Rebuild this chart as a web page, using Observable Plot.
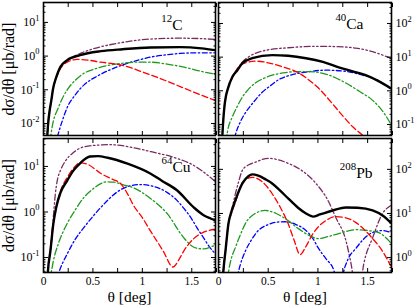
<!DOCTYPE html>
<html><head><meta charset="utf-8">
<script src="https://cdn.jsdelivr.net/npm/d3@7"></script>
<script src="https://cdn.jsdelivr.net/npm/@observablehq/plot@0.6"></script>
<style>
body{margin:0;background:#fff;}
#chart{position:relative;width:415px;height:306px;font-family:"Liberation Serif",serif;}
#chart svg{position:absolute;overflow:visible;}
</style></head><body><div id="chart"></div>
<script>
// ---- data: [theta (deg), dσ/dθ (μb/rad)] ----
const C12_total = [[0.035,0.003],[0.047,0.01],[0.063,0.025],[0.08,0.05],[0.095,0.1],[0.13,0.24],[0.17,0.47],[0.24,0.76],[0.37,1.07],[0.58,1.4],[0.8,1.6],[1.08,1.8],[1.38,1.85],[1.6,1.7],[1.74,1.5]];
const C12_incoh = [[0.13,0.24],[0.17,0.48],[0.24,0.72],[0.3,0.95],[0.4,1.3],[0.55,1.8],[0.75,2.4],[1.08,3.2],[1.38,3.4],[1.6,3.3],[1.74,3.1]];
const C12_red   = [[0.035,0.003],[0.047,0.01],[0.063,0.025],[0.08,0.05],[0.095,0.1],[0.13,0.23],[0.17,0.42],[0.24,0.66],[0.34,0.8],[0.45,0.76],[0.58,0.66],[0.7,0.6],[0.81,0.52],[1.0,0.34],[1.25,0.18],[1.5,0.09],[1.74,0.048]];
const C12_green = [[0.065,0.003],[0.1,0.012],[0.14,0.025],[0.19,0.055],[0.24,0.1],[0.32,0.19],[0.41,0.31],[0.5,0.4],[0.58,0.47],[0.7,0.56],[0.81,0.62],[0.95,0.66],[1.08,0.66],[1.25,0.58],[1.42,0.47],[1.6,0.35],[1.74,0.29]];
const C12_blue  = [[0.14,0.004],[0.19,0.012],[0.24,0.03],[0.32,0.07],[0.41,0.14],[0.55,0.26],[0.68,0.4],[0.81,0.56],[0.95,0.75],[1.08,0.93],[1.25,1.1],[1.38,1.2],[1.55,1.25],[1.74,1.25]];

const Ca40_total = [[0.035,0.03],[0.045,0.1],[0.06,0.35],[0.075,0.7],[0.09,1.05],[0.14,2.6],[0.19,4.1],[0.24,6.6],[0.34,9.3],[0.54,11.5],[0.7,11],[0.88,9.3],[1.05,7.2],[1.21,5],[1.35,3.8],[1.48,2.9],[1.6,2.0],[1.73,1.2]];
const Ca40_incoh = [[0.14,2.7],[0.19,4.3],[0.24,7.1],[0.3,10],[0.37,13],[0.5,16.5],[0.7,19],[0.98,21],[1.2,20.5],[1.38,18.6],[1.55,14.5],[1.73,9.3]];
const Ca40_red   = [[0.035,0.03],[0.045,0.1],[0.06,0.35],[0.075,0.7],[0.09,1.05],[0.14,2.5],[0.2,5],[0.27,6.8],[0.37,7.6],[0.5,6.8],[0.64,5.2],[0.8,3.5],[0.9,2.2],[1.0,1.25],[1.08,0.7],[1.15,0.4],[1.25,0.18],[1.35,0.085],[1.46,0.045],[1.55,0.025]];
const Ca40_green = [[0.075,0.03],[0.09,0.06],[0.14,0.17],[0.19,0.35],[0.24,0.65],[0.3,1.1],[0.37,1.7],[0.45,2.3],[0.54,2.9],[0.65,3.4],[0.77,3.7],[0.9,3.7],[0.98,3.6],[1.1,3.0],[1.28,1.7],[1.42,0.95],[1.55,0.52],[1.65,0.25],[1.73,0.107]];
const Ca40_blue  = [[0.15,0.03],[0.17,0.05],[0.22,0.12],[0.27,0.22],[0.35,0.45],[0.44,0.91],[0.52,1.4],[0.6,2.1],[0.72,2.9],[0.88,3.6],[1.08,4.1],[1.28,3.8],[1.45,2.9],[1.55,2.4],[1.65,1.7],[1.73,1.2]];

const Cu64_total = [[0.035,0.02],[0.045,0.05],[0.07,0.14],[0.1,0.56],[0.13,1.3],[0.17,2.6],[0.24,4.9],[0.3,8],[0.37,11.7],[0.47,16.5],[0.55,16.8],[0.65,15.5],[0.85,11.5],[1.08,7],[1.2,4.8],[1.35,3],[1.52,1.26],[1.62,0.85],[1.69,0.72],[1.74,0.65]];
const Cu64_incoh = [[0.07,0.15],[0.1,0.8],[0.12,2.5],[0.14,5],[0.17,8],[0.22,13],[0.3,20],[0.45,28],[0.68,30],[0.9,26],[1.09,21],[1.35,15],[1.52,10.5],[1.69,5.7],[1.74,4.6]];
const Cu64_red   = [[0.035,0.02],[0.045,0.05],[0.07,0.14],[0.1,0.55],[0.13,1.3],[0.17,2.8],[0.24,5.7],[0.3,9],[0.37,12],[0.45,11],[0.58,7],[0.7,5.2],[0.78,4.2],[0.85,2.5],[0.91,1.4],[1.0,0.75],[1.08,0.39],[1.21,0.14],[1.31,0.062],[1.37,0.09],[1.42,0.14],[1.52,0.26],[1.62,0.36],[1.74,0.42]];
const Cu64_green = [[0.055,0.03],[0.08,0.05],[0.1,0.085],[0.15,0.2],[0.24,0.56],[0.32,1.1],[0.41,2.1],[0.5,3.2],[0.58,4.2],[0.64,4.6],[0.72,4.5],[0.8,4.0],[0.91,3.4],[1.08,2.0],[1.25,0.93],[1.42,0.27],[1.5,0.18],[1.55,0.16],[1.62,0.155],[1.69,0.17],[1.74,0.19]];
const Cu64_blue  = [[0.13,0.03],[0.16,0.05],[0.24,0.12],[0.32,0.25],[0.41,0.46],[0.5,0.8],[0.58,1.26],[0.67,2.0],[0.75,2.8],[0.85,3.6],[0.98,4.0],[1.1,3.7],[1.25,2.7],[1.35,1.8],[1.42,1.2],[1.5,0.7],[1.55,0.46],[1.62,0.27],[1.68,0.17],[1.74,0.12]];

const Pb208_total = [[0.04,0.3],[0.055,0.7],[0.07,1.4],[0.1,5.9],[0.13,11],[0.17,20],[0.24,48],[0.3,70],[0.34,77],[0.4,72],[0.47,60],[0.54,48],[0.62,33],[0.7,22],[0.8,13.5],[0.88,10],[0.95,8.5],[1.02,9.5],[1.15,11.7],[1.28,13.7],[1.4,13.5],[1.55,11.7],[1.65,9],[1.73,6.3]];
const Pb208_incoh = [[0.13,11],[0.17,28],[0.2,50],[0.24,95],[0.3,125],[0.37,145],[0.5,178],[0.6,165],[0.7,137],[0.85,90],[0.98,48],[1.1,20],[1.18,8.1],[1.28,2.5],[1.33,0.8],[1.38,0.2],[1.42,0.2],[1.46,0.7],[1.55,2.8],[1.65,10],[1.73,15]];
const Pb208_red   = [[0.04,0.3],[0.055,0.7],[0.07,1.4],[0.1,5.9],[0.13,10],[0.17,18],[0.24,50],[0.3,63],[0.34,66],[0.4,60],[0.47,45],[0.54,28],[0.62,14],[0.7,5.9],[0.76,2.5],[0.82,1.17],[0.88,1.8],[0.95,3.5],[1.08,6.9],[1.18,8.5],[1.28,8.0],[1.38,6.3],[1.48,4.0],[1.55,2.7],[1.65,1.4],[1.73,0.66]];
const Pb208_green = [[0.085,0.3],[0.12,0.8],[0.17,1.7],[0.22,3.3],[0.27,5.9],[0.37,10],[0.47,11.7],[0.58,10],[0.7,6.9],[0.8,4.6],[0.91,3.2],[1.0,2.7],[1.1,3.0],[1.21,3.5],[1.3,4.0],[1.38,4.3],[1.5,4.1],[1.61,3.7],[1.73,2.2]];
const Pb208_blue  = [[0.18,0.3],[0.22,0.7],[0.27,1.4],[0.33,2.5],[0.4,4.1],[0.5,5.6],[0.57,6.3],[0.67,6.5],[0.78,5.6],[0.88,4.1],[0.95,2.7],[1.0,1.7],[1.08,0.95],[1.15,0.59],[1.2,0.3],[1.23,0.3],[1.27,0.6],[1.31,1.0],[1.38,1.6],[1.45,2.5],[1.55,3.7],[1.65,4.1],[1.73,3.7]];

const nuclei = ["^{12}C", "^{40}Ca", "^{64}Cu", "^{208}Pb"];
const yLabel = "dσ/dθ [μb/rad]";
const xLabel = "θ [deg]";
const xTickLabels = [0, 0.5, 1, 1.5];

// ---- styles ----
const styles = {
  incoh: {stroke:"#7a2a62", strokeWidth:1.3, strokeDasharray:"6,2.5,1.5,2.5,1.5,2.5"},
  blue:  {stroke:"#0000ff", strokeWidth:1.3, strokeDasharray:"5,2.5,1.5,2.5"},
  green: {stroke:"#1f9a1f", strokeWidth:1.3, strokeDasharray:"7,2.5,1.5,2.5"},
  red:   {stroke:"#ff0000", strokeWidth:1.3, strokeDasharray:"6,3"},
  total: {stroke:"#000000", strokeWidth:2.4}
};

const panels = [
  {name:nuclei[0], s:{incoh:C12_incoh, blue:C12_blue, green:C12_green, red:C12_red, total:C12_total},
   yd:[0.0044,39], left:0, top:0, w:216, h:137, m:[2,1,2,43], ySide:"left", xLab:false, ann:[-33,27]},
  {name:nuclei[1], s:{incoh:Ca40_incoh, blue:Ca40_blue, green:Ca40_green, red:Ca40_red, total:Ca40_total},
   yd:[0.047,420], left:216, top:0, w:199, h:137, m:[2,24,2,2], ySide:"right", xLab:false, ann:[-28,26]},
  {name:nuclei[2], s:{incoh:Cu64_incoh, blue:Cu64_blue, green:Cu64_green, red:Cu64_red, total:Cu64_total},
   yd:[0.047,41], left:0, top:137, w:216, h:169, m:[1,1,34,43], ySide:"left", xLab:true, ann:[-25,33]},
  {name:nuclei[3], s:{incoh:Pb208_incoh, blue:Pb208_blue, green:Pb208_green, red:Pb208_red, total:Pb208_total},
   yd:[0.46,500], left:216, top:137, w:199, h:169, m:[1,24,34,2], ySide:"right", xLab:true, ann:[-19,39]}
];

function logTicks([lo,hi]){
  const out=[];
  for(let e=Math.floor(Math.log10(lo)); e<=Math.ceil(Math.log10(hi)); e++)
    for(let k=1;k<=9;k++){const v=+(k*Math.pow(10,e)).toPrecision(6); if(v>=lo&&v<=hi) out.push(v);}
  return out;
}
const xMinor = d3.range(0, 1.751, 0.25);

function sup(svg){
  const ns="http://www.w3.org/2000/svg";
  svg.querySelectorAll("text").forEach(t=>{
    const s=t.textContent; const m=s.match(/^(.*?)\^\{(.*?)\}(.*)$/);
    if(!m) return;
    t.textContent="";
    if(m[1]){const a=document.createElementNS(ns,"tspan"); a.textContent=m[1]; t.appendChild(a);}
    const b=document.createElementNS(ns,"tspan"); b.textContent=m[2];
    b.setAttribute("font-size","0.7em"); b.setAttribute("dy","-0.65em"); t.appendChild(b);
    if(m[3]){const c=document.createElementNS(ns,"tspan"); c.textContent=m[3];
      c.setAttribute("dy","0.455em"); t.appendChild(c);}
  });
}

const chart=document.getElementById("chart");
for(const p of panels){
  const all=logTicks(p.yd), major=all.filter(v=>Math.abs(Math.log10(v)-Math.round(Math.log10(v)))<1e-9);
  const minor=all.filter(v=>!major.includes(v));
  const marks=[];
  for(const k of ["incoh","blue","green","red","total"])
    marks.push(Plot.line(p.s[k], {x:d=>d[0], y:d=>d[1], curve:"monotone-x", clip:true, ...styles[k]}));
  // ticks inward on all sides (no text)
  for(const a of ["top","bottom"]) marks.push(Plot.axisX(xMinor, {anchor:a, tickSize:-4, fill:"none", label:null}));
  for(const a of ["left","right"]) {
    marks.push(Plot.axisY(major, {anchor:a, tickSize:-5, fill:"none", label:null}));
    marks.push(Plot.axisY(minor, {anchor:a, tickSize:-2.5, fill:"none", label:null}));
  }
  marks.push(Plot.axisY(major, {anchor:p.ySide, tickSize:0, tickPadding:4, fontSize:12, label:null,
    tickFormat:d=>`10^{${Math.round(Math.log10(d))}}`}));
  if(p.xLab){
    marks.push(Plot.axisX(xTickLabels, {anchor:"bottom", tickSize:0, tickPadding:4, fontSize:11.5, label:null, tickFormat:d=>String(d)}));
    marks.push(Plot.text([xLabel], {frameAnchor:"bottom", text:d=>d, textAnchor:"middle", lineAnchor:"bottom", dy:29, fontSize:15.5}));
  }
  if(p.ySide==="left")
    marks.push(Plot.text([yLabel], {frameAnchor:"left", text:d=>d, rotate:-90, textAnchor:"middle", lineAnchor:"bottom", dx:-29.5, fontSize:16}));
  marks.push(Plot.text([p.name], {frameAnchor:"top-right", text:d=>d, textAnchor:"end", lineAnchor:"bottom", dx:p.ann[0], dy:p.ann[1], fontSize:15.5}));
  marks.push(Plot.frame({stroke:"#000", strokeWidth:1.6}));
  const svg=Plot.plot({
    width:p.w, height:p.h, marginTop:p.m[0], marginRight:p.m[1], marginBottom:p.m[2], marginLeft:p.m[3],
    style:{fontFamily:"Liberation Serif, serif", fontSize:"11px", background:"transparent", color:"#000"},
    x:{domain:[0,1.74], label:null},
    y:{type:"log", domain:p.yd, label:null},
    marks
  });
  sup(svg);
  svg.style.left=p.left+"px"; svg.style.top=p.top+"px";
  chart.appendChild(svg);
}
</script></body></html>
